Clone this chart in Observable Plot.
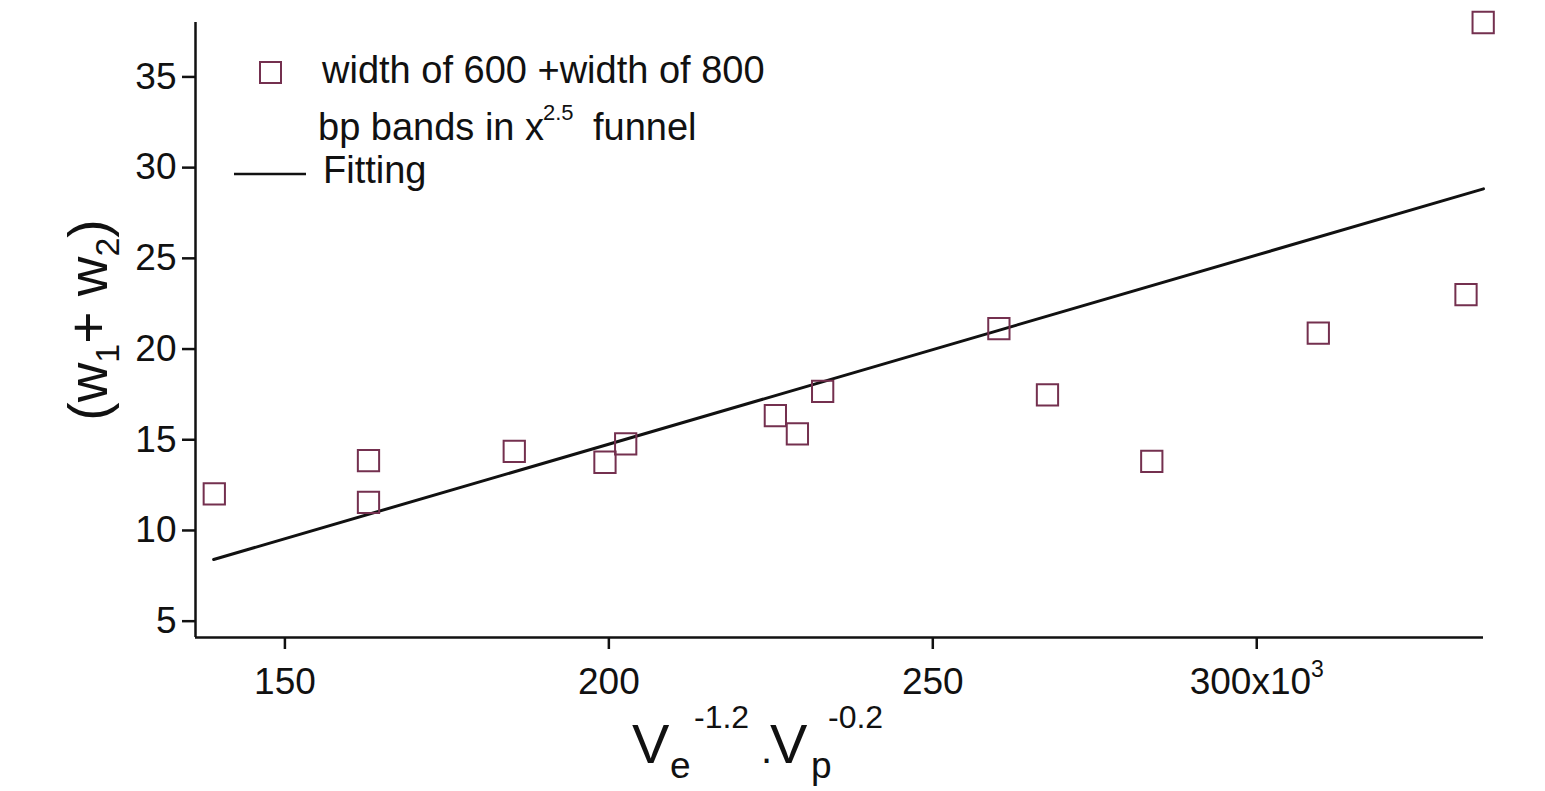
<!DOCTYPE html>
<html><head><meta charset="utf-8">
<script src="https://cdn.jsdelivr.net/npm/d3@7"></script>
<script src="https://cdn.jsdelivr.net/npm/@observablehq/plot@0.6"></script>
<style>body{margin:0;background:#fff} svg{display:block}</style>
</head><body><div id="chart"></div>
<script>
// Data
const xValues = [139.1, 162.9, 162.9, 185.4, 199.4, 202.6, 225.7, 229.1, 233.0, 260.2, 267.7, 283.8, 309.5, 332.3, 334.95];
const yValues = [12.02, 13.85, 11.55, 14.36, 13.76, 14.77, 16.33, 15.32, 17.67, 21.13, 17.47, 13.81, 20.88, 23.0, 38.0];
const fitX = [139.0, 335.0];
const fitY = [8.4, 28.83];
const xTicks = [150, 200, 250, 300];
const yTicks = [5, 10, 15, 20, 25, 30, 35];
const xDomain = [136.2, 335.0];
const yDomain = [4.1, 38.0];

const points = xValues.map((x, i) => ({x, y: yValues[i]}));
const fit = fitX.map((x, i) => ({x, y: fitY[i]}));

const FONT = "Arial, 'Liberation Sans', sans-serif";
const MAROON = "#74304f";

const svg = Plot.plot({
  width: 1545,
  height: 791,
  marginLeft: 195,
  marginRight: 62,
  marginTop: 22,
  marginBottom: 154,
  style: {fontFamily: FONT, color: "#111", background: "#fff"},
  x: {domain: xDomain},
  y: {domain: yDomain},
  marks: [
    Plot.axisX({ticks: xTicks, tickSize: 12, tickPadding: 18, fontSize: 37, strokeWidth: 2.5,
      tickFormat: d => d === 300 ? "300x10\u00B3" : String(d), label: null}),
    Plot.axisY({ticks: yTicks, tickSize: 13, tickPadding: 6, fontSize: 37, strokeWidth: 2.5, label: null}),
    Plot.ruleY([yDomain[0]], {stroke: "#111", strokeWidth: 2.5}),
    Plot.ruleX([xDomain[0]], {stroke: "#111", strokeWidth: 2.5}),
    Plot.line(fit, {x: "x", y: "y", stroke: "#111", strokeWidth: 3}),
    Plot.dot(points, {x: "x", y: "y", symbol: "square", r: 12, stroke: MAROON, strokeWidth: 2, fill: "none"})
  ]
});
document.getElementById("chart").appendChild(svg);

const s = d3.select(svg);

// Render the "10³" exponent as a raised superscript
s.selectAll("text").each(function() {
  const el = d3.select(this);
  if (el.text() === "300x10\u00B3") {
    el.text("300x10");
    el.append("tspan").attr("font-size", 23).attr("dy", "-0.75em").text("3");
  }
});

function txt(x, y, str, size) {
  return s.append("text").attr("x", x).attr("y", y).attr("font-size", size)
    .attr("font-family", FONT).attr("fill", "#111").attr("text-anchor", "start").text(str);
}
// Legend
s.append("rect").attr("x", 260).attr("y", 62).attr("width", 21).attr("height", 21)
  .attr("fill", "none").attr("stroke", MAROON).attr("stroke-width", 2);
txt(322, 83, "width of 600 +width of 800", 38);
txt(318, 140, "bp bands in x", 38);
txt(543, 120, "2.5", 22);
txt(593, 140, "funnel", 38);
s.append("line").attr("x1", 234).attr("x2", 306).attr("y1", 174).attr("y2", 174)
  .attr("stroke", "#111").attr("stroke-width", 2.5);
txt(323, 183, "Fitting", 38);

// X axis title
txt(632, 763, "V", 56);
txt(670, 778, "e", 37);
txt(694, 728, "-1.2", 32);
txt(761, 763, ".", 40);
txt(770, 763, "V", 56);
txt(811, 778, "p", 37);
txt(828, 728, "-0.2", 32);

// Y axis title (rotated)
const yt = s.append("text").attr("transform", "translate(107,320) rotate(-90)")
  .attr("text-anchor", "middle").attr("font-family", FONT).attr("font-size", 55).attr("fill", "#111");
yt.append("tspan").text("(w");
yt.append("tspan").attr("font-size", 34).attr("dy", 12).text("1");
yt.append("tspan").attr("dy", -12).text("+ w");
yt.append("tspan").attr("font-size", 34).attr("dy", 12).text("2");
yt.append("tspan").attr("dy", -12).text(")");
</script>
</body></html>
